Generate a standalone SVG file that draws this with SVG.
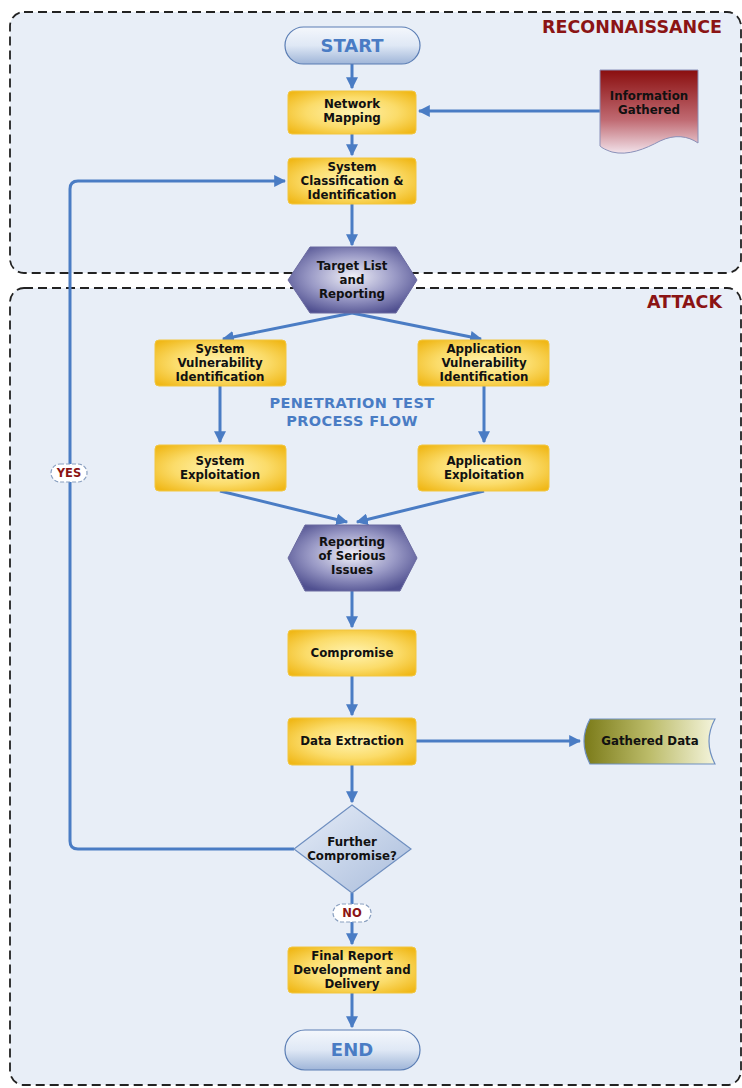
<svg xmlns="http://www.w3.org/2000/svg" width="742" height="1088" viewBox="0 0 742 1088">
<defs>
<radialGradient id="gY" cx="50%" cy="50%" r="65%">
<stop offset="0" stop-color="#fff3b0"/><stop offset="0.55" stop-color="#fbdc6a"/><stop offset="1" stop-color="#f0b818"/>
</radialGradient>
<radialGradient id="gH" cx="50%" cy="45%" r="60%">
<stop offset="0" stop-color="#f0f0f8"/><stop offset="0.55" stop-color="#9a9ac6"/><stop offset="1" stop-color="#505090"/>
</radialGradient>
<linearGradient id="gP" x1="0" y1="0" x2="0" y2="1">
<stop offset="0" stop-color="#f4f7fc"/><stop offset="0.5" stop-color="#dfe8f5"/><stop offset="1" stop-color="#9fb5d8"/>
</linearGradient>
<linearGradient id="gD" x1="0" y1="0" x2="1" y2="1">
<stop offset="0" stop-color="#e6edf8"/><stop offset="1" stop-color="#a9bcdb"/>
</linearGradient>
<linearGradient id="gR" x1="0" y1="0" x2="0" y2="1">
<stop offset="0" stop-color="#8a0e0e"/><stop offset="0.6" stop-color="#c06a72"/><stop offset="1" stop-color="#f2e2ea"/>
</linearGradient>
<linearGradient id="gO" x1="0" y1="0" x2="1" y2="0">
<stop offset="0" stop-color="#7a7a18"/><stop offset="0.5" stop-color="#bcbc6a"/><stop offset="1" stop-color="#f4f4dc"/>
</linearGradient>
<marker id="ah" viewBox="0 0 10 10" refX="9" refY="5" markerWidth="4" markerHeight="4" orient="auto">
<path d="M0,0 L10,5 L0,10 Z" fill="#4a7cc4"/>
</marker>
<style>
.zone{fill:#e8eef7;stroke:#222;stroke-width:1.8;stroke-dasharray:9 5}
.zt{font-family:"DejaVu Sans",sans-serif;font-weight:bold;font-size:17.5px;fill:#8b1414;text-anchor:end}
.box{fill:url(#gY);stroke:#f2c640;stroke-width:1}
.hex{fill:url(#gH);stroke:#6a6aa0;stroke-width:1}
.pill{fill:url(#gP);stroke:#5a7db4;stroke-width:1.2}
.t{font-family:"DejaVu Sans",sans-serif;font-weight:bold;font-size:11.8px;fill:#111;text-anchor:middle}
.pt{font-family:"DejaVu Sans",sans-serif;font-weight:bold;font-size:18px;fill:#4a7cc4;text-anchor:middle}
.big{font-family:"DejaVu Sans",sans-serif;font-weight:bold;font-size:14.5px;fill:#4a7cc4;text-anchor:middle;letter-spacing:0.4px}
.c{fill:none;stroke:#4a7cc4;stroke-width:3}
.lab{fill:#fff;stroke:#8aa0c0;stroke-width:1.2;stroke-dasharray:4 2}
.lt{font-family:"DejaVu Sans",sans-serif;font-weight:bold;font-size:11.5px;fill:#8b1414;text-anchor:middle}
</style>
</defs>
<rect width="742" height="1088" fill="#ffffff"/>
<g id="zone-recon">
<rect class="zone" x="10" y="12" width="731" height="261" rx="14"/>
<text class="zt" x="722" y="33">RECONNAISSANCE</text>
</g>
<g id="zone-attack">
<rect class="zone" x="10" y="288" width="731" height="797" rx="14"/>
<text class="zt" x="722" y="308">ATTACK</text>
</g>
<g id="title">
<text class="big" x="352" y="408">PENETRATION TEST</text>
<text class="big" x="352" y="426">PROCESS FLOW</text>
</g>
<g id="connectors">
<path class="c" d="M352,64 V88" marker-end="url(#ah)"/>
<path class="c" d="M600,111 H419" marker-end="url(#ah)"/>
<path class="c" d="M352,134 V155" marker-end="url(#ah)"/>
<path class="c" d="M352,204 V245" marker-end="url(#ah)"/>
<path class="c" d="M352,313 L223,339" marker-end="url(#ah)"/>
<path class="c" d="M352,313 L481,339" marker-end="url(#ah)"/>
<path class="c" d="M220,386 V442" marker-end="url(#ah)"/>
<path class="c" d="M484,386 V442" marker-end="url(#ah)"/>
<path class="c" d="M220,491 L347,522" marker-end="url(#ah)"/>
<path class="c" d="M484,491 L357,522" marker-end="url(#ah)"/>
<path class="c" d="M352,591 V627" marker-end="url(#ah)"/>
<path class="c" d="M352,676 V715" marker-end="url(#ah)"/>
<path class="c" d="M416,741 H580" marker-end="url(#ah)"/>
<path class="c" d="M352,765 V802" marker-end="url(#ah)"/>
<path class="c" d="M294,849 H78 Q70,849 70,841 V189 Q70,181 78,181 H285" marker-end="url(#ah)"/>
<path class="c" d="M352,893 V944" marker-end="url(#ah)"/>
<path class="c" d="M352,993 V1027" marker-end="url(#ah)"/>
</g>
<g id="lbl-yes">
<rect class="lab" x="51" y="464" width="36" height="18" rx="9"/>
<text class="lt" x="69" y="477">YES</text>
</g>
<g id="lbl-no">
<rect class="lab" x="333" y="904" width="38" height="18" rx="9"/>
<text class="lt" x="352" y="917">NO</text>
</g>
<g id="start">
<rect class="pill" x="285" y="27" width="135" height="37" rx="18.5"/>
<text class="pt" x="352" y="52">START</text>
</g>
<g id="network-mapping">
<rect class="box" x="288" y="91" width="128" height="43" rx="4"/>
<text class="t" x="352" y="108">Network</text>
<text class="t" x="352" y="122">Mapping</text>
</g>
<g id="info-gathered">
<path d="M600,70 H698 V143 C688,136 675,134 660,141 C645,149 628,156 612,152 C606,150 602,148 600,146 Z" fill="url(#gR)" stroke="#8a90b8" stroke-width="1"/>
<text class="t" x="649" y="100" fill="#2a1010">Information</text>
<text class="t" x="649" y="114" fill="#2a1010">Gathered</text>
</g>
<g id="system-classification">
<rect class="box" x="288" y="158" width="128" height="46" rx="4"/>
<text class="t" x="352" y="171">System</text>
<text class="t" x="352" y="185">Classification &amp;</text>
<text class="t" x="352" y="199">Identification</text>
</g>
<g id="target-list">
<path class="hex" d="M310,247 H396 L417,280 L396,313 H310 L288,280 Z"/>
<text class="t" x="352" y="270">Target List</text>
<text class="t" x="352" y="284">and</text>
<text class="t" x="352" y="298">Reporting</text>
</g>
<g id="sys-vuln">
<rect class="box" x="155" y="340" width="131" height="46" rx="4"/>
<text class="t" x="220" y="353">System</text>
<text class="t" x="220" y="367">Vulnerability</text>
<text class="t" x="220" y="381">Identification</text>
</g>
<g id="app-vuln">
<rect class="box" x="418" y="340" width="131" height="46" rx="4"/>
<text class="t" x="484" y="353">Application</text>
<text class="t" x="484" y="367">Vulnerability</text>
<text class="t" x="484" y="381">Identification</text>
</g>
<g id="sys-exploit">
<rect class="box" x="155" y="445" width="131" height="46" rx="4"/>
<text class="t" x="220" y="465">System</text>
<text class="t" x="220" y="479">Exploitation</text>
</g>
<g id="app-exploit">
<rect class="box" x="418" y="445" width="131" height="46" rx="4"/>
<text class="t" x="484" y="465">Application</text>
<text class="t" x="484" y="479">Exploitation</text>
</g>
<g id="reporting-serious">
<path class="hex" d="M305,525 H400 L417,558 L400,591 H305 L288,558 Z"/>
<text class="t" x="352" y="546">Reporting</text>
<text class="t" x="352" y="560">of Serious</text>
<text class="t" x="352" y="574">Issues</text>
</g>
<g id="compromise">
<rect class="box" x="288" y="630" width="128" height="46" rx="4"/>
<text class="t" x="352" y="657">Compromise</text>
</g>
<g id="data-extraction">
<rect class="box" x="288" y="718" width="128" height="47" rx="4"/>
<text class="t" x="352" y="745">Data Extraction</text>
</g>
<g id="gathered-data">
<path d="M590,719 H715 Q703,741 715,764 H590 Q578,741 590,719 Z" fill="url(#gO)" stroke="#6f8fc0" stroke-width="1.2"/>
<text class="t" x="650" y="745">Gathered Data</text>
</g>
<g id="further-compromise">
<path d="M352,805 L411,849 L352,893 L294,849 Z" fill="url(#gD)" stroke="#6f8fc0" stroke-width="1.2"/>
<text class="t" x="352" y="846">Further</text>
<text class="t" x="352" y="860">Compromise?</text>
</g>
<g id="final-report">
<rect class="box" x="288" y="947" width="128" height="46" rx="4"/>
<text class="t" x="352" y="960">Final Report</text>
<text class="t" x="352" y="974">Development and</text>
<text class="t" x="352" y="988">Delivery</text>
</g>
<g id="end">
<rect class="pill" x="285" y="1030" width="135" height="40" rx="20"/>
<text class="pt" x="352" y="1056">END</text>
</g>
</svg>
